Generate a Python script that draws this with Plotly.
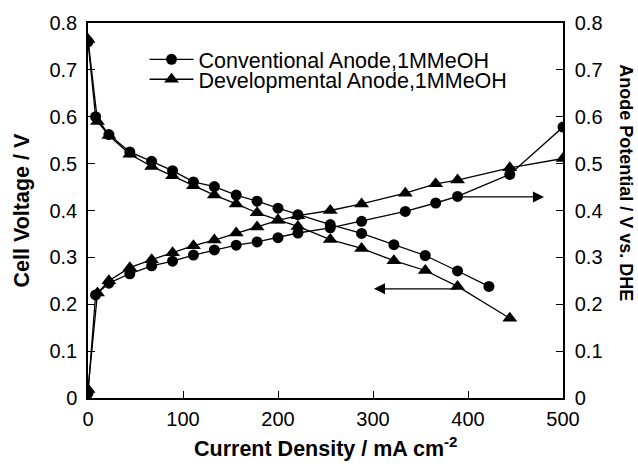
import plotly.graph_objects as go

# Current density (mA cm^-2)
cd_conv_cell = [0, 8, 22, 44, 67, 89, 111, 133, 156, 178, 200, 221, 255, 288, 322, 355, 389, 422]
v_conv_cell = [0.76, 0.60, 0.562, 0.525, 0.505, 0.485, 0.461, 0.451, 0.433, 0.42, 0.405, 0.391,
               0.37, 0.351, 0.327, 0.304, 0.271, 0.238]

cd_dev_cell = [0, 10, 22, 44, 67, 89, 111, 133, 156, 178, 200, 221, 255, 288, 322, 355, 389, 444]
v_dev_cell = [0.765, 0.59, 0.56, 0.52, 0.494, 0.474, 0.453, 0.433, 0.414, 0.395, 0.38, 0.366,
              0.338, 0.319, 0.293, 0.272, 0.238, 0.17]

cd_conv_anode = [0, 8, 22, 44, 67, 89, 111, 133, 156, 178, 200, 221, 255, 288, 334, 366, 389, 444, 500]
v_conv_anode = [0.01, 0.22, 0.245, 0.265, 0.282, 0.292, 0.305, 0.316, 0.326, 0.333, 0.342, 0.352,
                0.363, 0.377, 0.398, 0.416, 0.43, 0.477, 0.578]

cd_dev_anode = [0, 10, 22, 44, 67, 89, 111, 133, 156, 178, 200, 221, 255, 288, 334, 366, 389, 444, 500]
v_dev_anode = [0.018, 0.224, 0.25, 0.278, 0.295, 0.31, 0.325, 0.337, 0.352, 0.365, 0.379, 0.389,
               0.40, 0.414, 0.437, 0.457, 0.465, 0.491, 0.511]

# Arrows indicating which axis applies: (tail_x, tail_y, head_x, head_y)
arrow_right = (389, 0.429, 480, 0.429)
arrow_left = (389, 0.233, 301, 0.233)

x_ticks = [0, 100, 200, 300, 400, 500]
y_ticks = [0, 0.1, 0.2, 0.3, 0.4, 0.5, 0.6, 0.7, 0.8]
y_ticktext = ["0", "0.1", "0.2", "0.3", "0.4", "0.5", "0.6", "0.7", "0.8"]

x_title = "<b>Current Density / mA cm<sup>-2</sup></b>"
y_title = "<b>Cell Voltage / V</b>"
y2_title = "<b>Anode Potential / V vs. DHE</b>"

FONT = "Liberation Sans, Arial, sans-serif"
LW = 1.3
TITLE_FONT = dict(family=FONT, size=21.5, color="black")

fig = go.Figure()
circle = dict(symbol="circle", size=11, color="black")
tri = dict(symbol="triangle-up", size=13, color="black")
line = dict(color="black", width=LW)

fig.add_trace(go.Scatter(x=cd_conv_cell, y=v_conv_cell, mode="lines+markers", marker=circle, line=line,
                         name="Conventional Anode,1MMeOH", legend="legend", showlegend=True))
fig.add_trace(go.Scatter(x=cd_dev_cell, y=v_dev_cell, mode="lines+markers", marker=tri, line=line,
                         name="Developmental Anode,1MMeOH", legend="legend2", showlegend=True))
fig.add_trace(go.Scatter(x=cd_conv_anode, y=v_conv_anode, mode="lines+markers", marker=circle, line=line,
                         yaxis="y2", showlegend=False))
fig.add_trace(go.Scatter(x=cd_dev_anode, y=v_dev_anode, mode="lines+markers", marker=tri, line=line,
                         yaxis="y2", showlegend=False))

for (tx, ty, hx, hy) in (arrow_right, arrow_left):
    fig.add_annotation(x=hx, y=hy, ax=tx, ay=ty, xref="x", yref="y", axref="x", ayref="y",
                       text="", showarrow=True, arrowhead=2, arrowsize=1.7, arrowwidth=LW,
                       arrowcolor="black")

# Axis titles as annotations (positions in paper coordinates)
fig.add_annotation(text=x_title, xref="paper", yref="paper", x=0.501, y=-0.13,
                   xanchor="center", yanchor="middle", showarrow=False, font=TITLE_FONT)
fig.add_annotation(text=y_title, xref="paper", yref="paper", x=-0.139, y=0.5,
                   xanchor="center", yanchor="middle", showarrow=False, textangle=-90, font=TITLE_FONT)
fig.add_annotation(text=y2_title, xref="paper", yref="paper", x=1.131, y=0.575,
                   xanchor="center", yanchor="middle", showarrow=False, textangle=90,
                   font=dict(family=FONT, size=18, color="black"))

axis_common = dict(ticks="inside", ticklen=7, tickwidth=1.3, tickcolor="black",
                   showline=True, linecolor="black", linewidth=1.5, showgrid=False, zeroline=False,
                   tickfont=dict(family=FONT, size=20, color="black"))

fig.update_layout(
    width=638, height=466,
    margin=dict(l=88, r=75, t=19, b=68),
    paper_bgcolor="white", plot_bgcolor="white",
    font=dict(family=FONT, color="black"),
    xaxis=dict(range=[0, 500], tickvals=x_ticks, mirror=True, ticklabelstandoff=2, **axis_common),
    yaxis=dict(range=[0, 0.8], tickvals=y_ticks, ticktext=y_ticktext, ticklabelstandoff=5,
               **axis_common),
    yaxis2=dict(range=[0, 0.8], tickvals=y_ticks, ticktext=y_ticktext, overlaying="y", side="right",
                ticklabelstandoff=6, **axis_common),
    legend=dict(x=0.119, y=0.903, xanchor="left", yanchor="middle", bgcolor="rgba(0,0,0,0)",
                font=dict(family=FONT, size=21.5), itemwidth=44, borderwidth=0),
    legend2=dict(x=0.119, y=0.850, xanchor="left", yanchor="middle", bgcolor="rgba(0,0,0,0)",
                 font=dict(family=FONT, size=21.5), itemwidth=44, borderwidth=0),
)

fig.write_html("out.html", config={"displayModeBar": False},
               post_script="document.body.style.margin='0';")
